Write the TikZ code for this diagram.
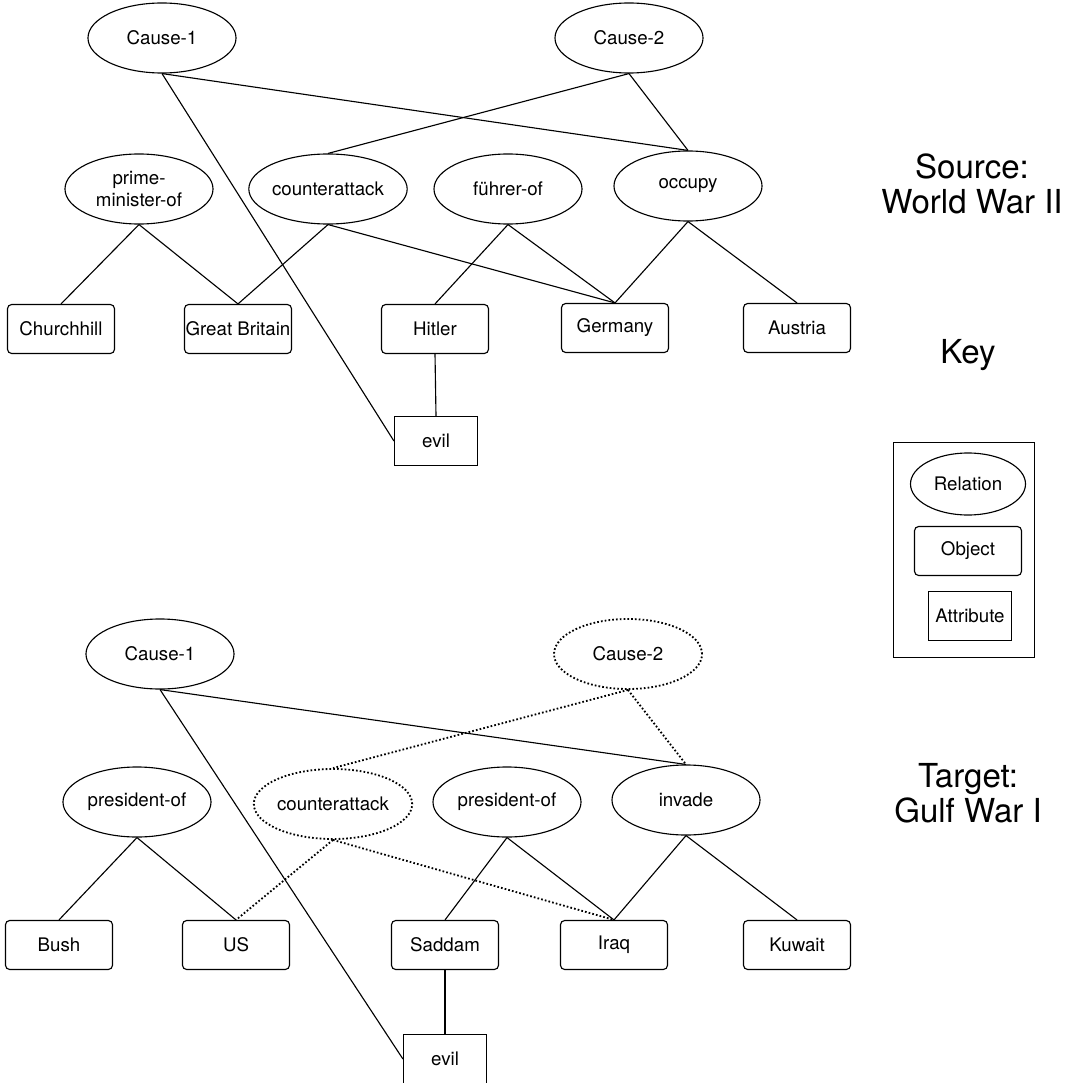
\documentclass[tikz,border=0pt]{standalone}
\usepackage{fontspec}
\setmainfont{TeX Gyre Heros}
\usetikzlibrary{shapes.geometric,positioning}

\begin{document}
\begin{tikzpicture}[
  x=0.025cm,y=-0.025cm,
  relation/.style={ellipse,draw,line width=0.8pt,minimum width=3.7cm,minimum height=1.75cm,
                   inner sep=0pt,align=center,font=\fontsize{13.3}{16}\selectfont},
  guessrel/.style={relation,line width=1.3pt,dash pattern=on 1.2pt off 1.5pt},
  object/.style={rectangle,rounded corners=3pt,draw,line width=0.8pt,minimum width=2.675cm,
                 minimum height=1.225cm,inner sep=0pt,font=\fontsize{13.3}{16}\selectfont},
  attribute/.style={rectangle,draw,line width=0.8pt,minimum width=2.075cm,minimum height=1.225cm,
                    inner sep=0pt,font=\fontsize{13.3}{16}\selectfont},
  link/.style={line width=0.8pt},
  guess/.style={line width=1.3pt,dash pattern=on 1.2pt off 1.5pt},
  title/.style={align=center,font=\fontsize{23.5}{25}\selectfont}
]
  \useasboundingbox (0,0) rectangle (1076,1083);

  % source
  \node[relation](sc1) at (162,38){Cause-1};
  \node[relation](sc2) at (629,38){Cause-2};
  \node[relation](spm) at (139,189){prime-\\minister-of};
  \node[relation](sca) at (328,189){counterattack};
  \node[relation](sfu) at (508,189){führer-of};
  \node[relation](soc) at (688,186){occupy};
  \node[object](churchill) at (61,329){Churchhill};
  \node[object](britain) at (238,329){Great Britain};
  \node[object](hitler) at (435,329){Hitler};
  \node[object](germany) at (615,328){Germany};
  \node[object](austria) at (797,328){Austria};
  \node[attribute](sevil) at (436,441){evil};
  \draw[link](sc1.south)--(soc.north);
  \draw[link](sc1.south)--(sevil.west);
  \draw[link](sc2.south)--(sca.north);
  \draw[link](sc2.south)--(soc.north);
  \draw[link](spm.south)--(churchill.north);
  \draw[link](spm.south)--(britain.north);
  \draw[link](sca.south)--(britain.north);
  \draw[link](sca.south)--(germany.north);
  \draw[link](sfu.south)--(hitler.north);
  \draw[link](sfu.south)--(germany.north);
  \draw[link](soc.south)--(germany.north);
  \draw[link](soc.south)--(austria.north);
  \draw[link](hitler.south)--(sevil.north);
  \node[title](srclabel) at (972,184){Source:\\World War II};

  % key
  \node[title](keylabel) at (968,355){Key};
  \node[draw,line width=0.9pt,minimum width=3.525cm,minimum height=5.375cm](keybox) at (964,550){};
  \node[relation,minimum width=2.875cm,minimum height=1.55cm](krel) at (968,484){Relation};
  \node[object](kobj) at (968,551){Object};
  \node[attribute](kattr) at (970,616){Attribute};

  % target
  \node[relation](tc1) at (160,654){Cause-1};
  \node[guessrel](tc2) at (628,654){Cause-2};
  \node[relation](tp1) at (137,802){president-of};
  \node[guessrel](tca) at (333,804){counterattack};
  \node[relation](tp2) at (507,802){president-of};
  \node[relation](tin) at (686,800){invade};
  \node[object](bush) at (59,945){Bush};
  \node[object](us) at (236,945){US};
  \node[object](saddam) at (445,945){Saddam};
  \node[object](iraq) at (614,945){Iraq};
  \node[object](kuwait) at (797,945){Kuwait};
  \node[attribute](tevil) at (445,1059){evil};
  \draw[link](tc1.south)--(tin.north);
  \draw[link](tc1.south)--(tevil.west);
  \draw[guess](tc2.south)--(tca.north);
  \draw[guess](tc2.south)--(tin.north);
  \draw[link](tp1.south)--(bush.north);
  \draw[link](tp1.south)--(us.north);
  \draw[guess](tca.south)--(us.north);
  \draw[guess](tca.south)--(iraq.north);
  \draw[link](tp2.south)--(saddam.north);
  \draw[link](tp2.south)--(iraq.north);
  \draw[link](tin.south)--(iraq.north);
  \draw[link](tin.south)--(kuwait.north);
  \draw[link](saddam.south)--(tevil.north);
  \node[title](tgtlabel) at (968,793){Target:\\Gulf War I};
\end{tikzpicture}
\end{document}
